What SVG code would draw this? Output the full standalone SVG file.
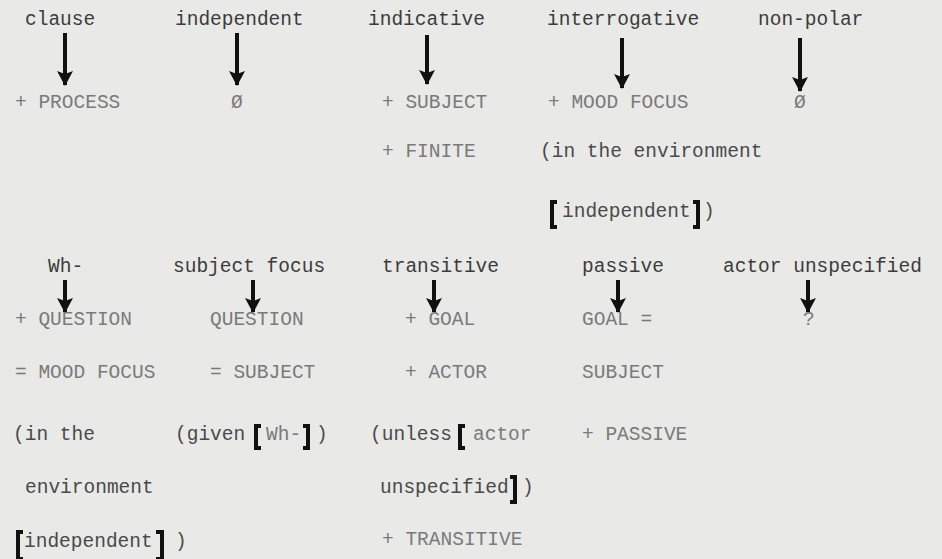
<svg xmlns="http://www.w3.org/2000/svg" width="942" height="559" viewBox="0 0 942 559">
<style>
text{font-family:"Liberation Mono","DejaVu Sans Mono",monospace;font-size:19.5px;}
.f{fill:#3c3c3c;}
.r{fill:#7a7a7a;}
.p{fill:#4a4a4a;}
.br{fill:none;stroke:#111;stroke-width:4;stroke-linejoin:miter;}
.ar{stroke:#111;stroke-width:4;fill:none;}
</style>
<defs>
<marker id="ah" viewBox="0 0 15 18" refX="14" refY="9" markerWidth="15" markerHeight="18" markerUnits="userSpaceOnUse" orient="auto">
<path d="M0,1 L15,9 L0,17 L3,9 Z" fill="#111"/>
</marker>
</defs>
<rect width="942" height="559" fill="#e9e9e7"/>

<g id="connectors">
<line class="ar" x1="65" y1="33" x2="65" y2="85" marker-end="url(#ah)"/>
<line class="ar" x1="237" y1="33" x2="237" y2="85" marker-end="url(#ah)"/>
<line class="ar" x1="427" y1="35" x2="427" y2="84" marker-end="url(#ah)"/>
<line class="ar" x1="622" y1="38" x2="622" y2="88" marker-end="url(#ah)"/>
<line class="ar" x1="800" y1="38" x2="800" y2="91" marker-end="url(#ah)"/>
<line class="ar" x1="65" y1="280" x2="65" y2="312" marker-end="url(#ah)"/>
<line class="ar" x1="253" y1="280" x2="253" y2="312" marker-end="url(#ah)"/>
<line class="ar" x1="434" y1="280" x2="434" y2="312" marker-end="url(#ah)"/>
<line class="ar" x1="618" y1="280" x2="618" y2="312" marker-end="url(#ah)"/>
<line class="ar" x1="808" y1="280" x2="808" y2="312" marker-end="url(#ah)"/>
</g>

<g id="n-clause">
<text class="f" x="25" y="25">clause</text>
<text class="r" x="15" y="108">+ PROCESS</text>
</g>

<g id="n-independent">
<text class="f" x="175" y="25">independent</text>
<text class="r" x="231" y="108">Ø</text>
</g>

<g id="n-indicative">
<text class="f" x="368" y="25">indicative</text>
<text class="r" x="382" y="108">+ SUBJECT</text>
<text class="r" x="382" y="157">+ FINITE</text>
</g>

<g id="n-interrogative">
<text class="f" x="547" y="25">interrogative</text>
<text class="r" x="548" y="108">+ MOOD FOCUS</text>
<text class="p" x="540" y="157">(in the environment</text>
<path class="br" d="M557,202 h-5 v25 h5"/>
<text class="p" x="562" y="217">independent</text>
<path class="br" d="M693,202 h5 v25 h-5"/>
<text class="p" x="703" y="217">)</text>
</g>

<g id="n-nonpolar">
<text class="f" x="758" y="25">non-polar</text>
<text class="r" x="794" y="108">Ø</text>
</g>

<g id="n-wh">
<text class="f" x="48" y="272">Wh-</text>
<text class="r" x="15" y="325">+ QUESTION</text>
<text class="r" x="15" y="378">= MOOD FOCUS</text>
<text class="p" x="13" y="440">(in the</text>
<text class="p" x="25" y="493">environment</text>
<path class="br" d="M23,532 h-5 v27 h5"/>
<text class="p" x="24" y="547">independent</text>
<path class="br" d="M156,532 h6 v27 h-6"/>
<text class="p" x="175" y="547">)</text>
</g>

<g id="n-subjectfocus">
<text class="f" x="173" y="272">subject focus</text>
<text class="r" x="210" y="325">QUESTION</text>
<text class="r" x="210" y="378">= SUBJECT</text>
<text class="p" x="175" y="440">(given</text>
<path class="br" d="M261,426 h-5 v22 h5"/>
<text class="r" x="266" y="440">Wh-</text>
<path class="br" d="M303,426 h5 v22 h-5"/>
<text class="p" x="316" y="440">)</text>
</g>

<g id="n-transitive">
<text class="f" x="382" y="272">transitive</text>
<text class="r" x="405" y="325">+ GOAL</text>
<text class="r" x="405" y="378">+ ACTOR</text>
<text class="p" x="370" y="440">(unless</text>
<path class="br" d="M465,426 h-5 v22 h5"/>
<text class="r" x="473" y="440">actor</text>
<text class="p" x="380" y="493">unspecified</text>
<path class="br" d="M510,477 h5 v25 h-5"/>
<text class="p" x="522" y="493">)</text>
<text class="r" x="382" y="545">+ TRANSITIVE</text>
</g>

<g id="n-passive">
<text class="f" x="582" y="272">passive</text>
<text class="r" x="582" y="325">GOAL =</text>
<text class="r" x="582" y="378">SUBJECT</text>
<text class="r" x="582" y="440">+ PASSIVE</text>
</g>

<g id="n-actorunspecified">
<text class="f" x="723" y="272">actor unspecified</text>
<text class="r" x="803" y="325">?</text>
</g>
</svg>
